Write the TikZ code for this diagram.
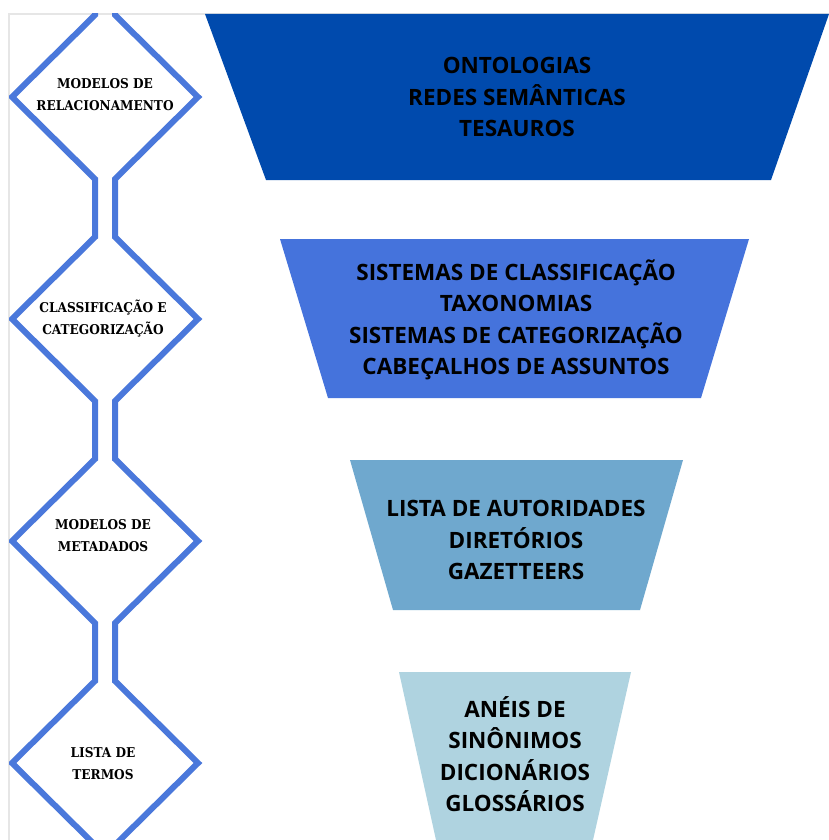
\documentclass[tikz,border=0pt]{standalone}
\usepackage{fontspec}
\newfontfamily\trapfont{Open Sans}
\newfontfamily\diamfont{DejaVu Serif Condensed}
\definecolor{pipeblue}{HTML}{4A78DB}
\definecolor{lvlone}{HTML}{004AAD}
\definecolor{lvltwo}{HTML}{4573DC}
\definecolor{lvlthree}{HTML}{6FA8CE}
\definecolor{lvlfour}{HTML}{AFD3E0}
\definecolor{framegray}{HTML}{E6E6E6}
\begin{document}
\begin{tikzpicture}[x=1pt, y=-1pt,
  pipe/.style={line width=6pt, color=pipeblue, line join=miter},
  label/.style={font=\diamfont\bfseries\fontsize{13.5}{22}\selectfont, align=center},
  level/.style={font=\trapfont\bfseries\fontsize{22.5}{31.5}\selectfont, align=center}]
  % Page
  \useasboundingbox[fill=white] (0,0) rectangle (829,840);
  \draw[framegray, line width=1.5pt] (9,840) -- (9,14) -- (829,14);

  % Draw levels
  \fill[lvlone]   (205,14)  -- (829,14)  -- (771,180) -- (266,180) -- cycle;
  \fill[lvltwo]   (280,239) -- (749,239) -- (701,398) -- (328,398) -- cycle;
  \fill[lvlthree] (350,460) -- (683,460) -- (640,610) -- (393,610) -- cycle;
  \fill[lvlfour]  (399,672) -- (631,672) -- (593,840) -- (436,840) -- cycle;

  \node[level] (ont) at (517,97)  {ONTOLOGIAS\\REDES SEMÂNTICAS\\TESAUROS};
  \node[level] (cla) at (516,320) {SISTEMAS DE CLASSIFICAÇÃO\\TAXONOMIAS\\SISTEMAS DE CATEGORIZAÇÃO\\CABEÇALHOS DE ASSUNTOS};
  \node[level] (aut) at (516,540) {LISTA DE AUTORIDADES\\DIRETÓRIOS\\GAZETTEERS};
  \node[level] (sin) at (515,754) {ANÉIS DE\\SINÔNIMOS\\DICIONÁRIOS\\GLOSSÁRIOS};

  % Draw diamonds
  \begin{scope}
    \clip (9,14) rectangle (829,840);
    \draw[pipe] (95,-100) \foreach \c in {97,319,541,763} {
      -- (95,{\c-82}) -- (12,\c) -- (95,{\c+82}) } -- (95,950);
    \draw[pipe] (115,-100) \foreach \c in {97,319,541,763} {
      -- (115,{\c-82}) -- (198,\c) -- (115,{\c+82}) } -- (115,950);
  \end{scope}

  \node[label] (rel) at (105,95)  {MODELOS DE\\RELACIONAMENTO};
  \node[label] (cat) at (103,319) {CLASSIFICAÇÃO E\\CATEGORIZAÇÃO};
  \node[label] (met) at (103,536) {MODELOS DE\\METADADOS};
  \node[label] (ter) at (103,764) {LISTA DE\\TERMOS};
\end{tikzpicture}
\end{document}
